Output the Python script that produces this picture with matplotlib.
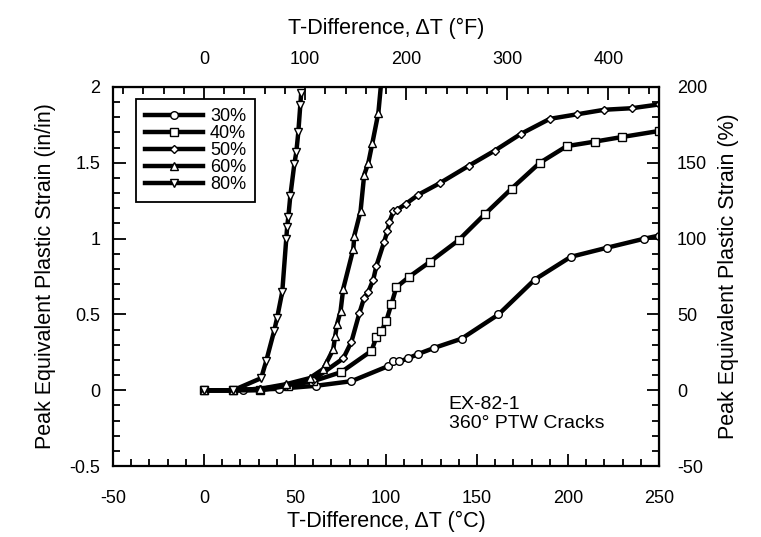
import numpy as np
import matplotlib
matplotlib.use("Agg")
import matplotlib.pyplot as plt
from matplotlib.ticker import MultipleLocator, FormatStrFormatter

plt.rcParams['font.family'] = ['Liberation Sans', 'DejaVu Sans']
plt.rcParams['axes.unicode_minus'] = False

# data (T in C, strain in in/in)
t30 = [0, 21.5, 41, 61.7, 81, 101.3, 104, 107.4, 112, 117.8, 126.6, 141.5, 161.8, 181.7, 201.5, 221.4, 242, 250]
s30 = [0, 0, 0.01, 0.03, 0.06, 0.16, 0.19, 0.19, 0.21, 0.24, 0.28, 0.34, 0.50, 0.73, 0.88, 0.94, 1.00, 1.02]

t40 = [0, 16, 31, 46, 60, 75.4, 92, 94.7, 97.5, 100.2, 103, 105.7, 112.9, 123.9, 139.9, 154.2, 169, 184.5, 199.3, 214.8, 229.6, 250]
s40 = [0, 0, 0, 0.03, 0.06, 0.12, 0.26, 0.35, 0.39, 0.46, 0.57, 0.68, 0.75, 0.845, 0.99, 1.16, 1.33, 1.50, 1.61, 1.64, 1.67, 1.71]

t50 = [0, 16, 31, 45, 60, 76.5, 81, 85.4, 88, 90.3, 93, 94.7, 99, 100.8, 101.9, 104, 106, 111, 117.8, 129.4, 145.4, 159.7, 174, 190, 205, 220, 235, 250]
s50 = [0, 0, 0.01, 0.03, 0.07, 0.21, 0.32, 0.51, 0.61, 0.65, 0.73, 0.82, 0.98, 1.05, 1.11, 1.18, 1.19, 1.23, 1.29, 1.365, 1.48, 1.58, 1.69, 1.79, 1.82, 1.85, 1.86, 1.885]

t60 = [0, 16, 31, 45, 58, 65.5, 67.2, 71, 72.1, 73.2, 75, 76.5, 82, 82.6, 86, 88, 90.3, 92.5, 95.8, 97.5]
s60 = [0, 0, 0.01, 0.04, 0.08, 0.14, 0.18, 0.27, 0.36, 0.44, 0.52, 0.67, 0.93, 1.02, 1.18, 1.42, 1.50, 1.63, 1.83, 2.05]

t80 = [0, 16, 31.4, 34.1, 38.5, 40.2, 43, 45.2, 45.7, 46.3, 47.4, 49.6, 50.7, 51.8, 52.9, 53.4]
s80 = [0, 0, 0.08, 0.19, 0.39, 0.48, 0.65, 1.00, 1.08, 1.14, 1.28, 1.49, 1.57, 1.70, 1.88, 1.96]

labels = ['30%', '40%', '50%', '60%', '80%']
markers = ['o', 's', 'D', '^', 'v']
sizes = [5.5, 5.5, 4.5, 6, 6]

fig = plt.figure(figsize=(7.61, 5.37), dpi=100)
ax = fig.add_axes([0.1485, 0.132, 0.7175, 0.706])

series = [(t30, s30), (t40, s40), (t50, s50), (t60, s60), (t80, s80)]
for (t, s), lab, m, ms in zip(series, labels, markers, sizes):
    ax.plot(t, s, color='black', lw=3.2, marker=m, ms=ms, mfc='white',
            mec='black', mew=1.0, label=lab)

ax.set_xlim(-50, 250)
ax.set_ylim(-0.5, 2)
ax.xaxis.set_major_locator(MultipleLocator(50))
ax.xaxis.set_minor_locator(MultipleLocator(10))
ax.yaxis.set_major_locator(MultipleLocator(0.5))
ax.yaxis.set_minor_locator(MultipleLocator(0.1))
ax.yaxis.set_major_formatter(FormatStrFormatter('%g'))
ax.tick_params(which='both', direction='in', labelsize=13, width=1.3)
ax.tick_params(which='major', length=9)
ax.tick_params(which='minor', length=5)
ax.tick_params(axis='x', which='major', pad=17)
ax.tick_params(axis='y', which='major', pad=9)
for sp in ax.spines.values():
    sp.set_linewidth(1.6)

ax.set_xlabel('T-Difference, \u0394T (\u00b0C)', fontsize=15.5, labelpad=3)
ax.set_ylabel('Peak Equivalent Plastic Strain (in/in)', fontsize=15.5, labelpad=10)

top = ax.secondary_xaxis('top', functions=(lambda c: c * 1.8, lambda f: f / 1.8))
top.xaxis.set_major_locator(MultipleLocator(100))
top.xaxis.set_minor_locator(MultipleLocator(20))
top.tick_params(which='both', direction='in', labelsize=13, width=1.3)
top.tick_params(which='major', length=9, pad=14)
top.tick_params(which='minor', length=5)
top.set_xlabel('T-Difference, \u0394T (\u00b0F)', fontsize=15.5, labelpad=12)

right = ax.secondary_yaxis('right', functions=(lambda s: s * 100, lambda p: p / 100))
right.yaxis.set_major_locator(MultipleLocator(50))
right.yaxis.set_minor_locator(MultipleLocator(10))
right.tick_params(which='both', direction='in', labelsize=13, width=1.3)
right.tick_params(which='major', length=9, pad=13)
right.tick_params(which='minor', length=5)
right.set_ylabel('Peak Equivalent Plastic Strain (%)', fontsize=15.5, labelpad=8)

ax.text(134.5, -0.04, 'EX-82-1\n360\u00b0 PTW Cracks', fontsize=14, va='top',
        ha='left', linespacing=1.15)

leg = ax.legend(loc='upper left', bbox_to_anchor=(0.042, 0.968), borderaxespad=0,
                fontsize=13, handlelength=3.2, labelspacing=0.0, borderpad=0.5,
                handletextpad=0.4, fancybox=False, framealpha=1)
leg.get_frame().set_edgecolor('black')
leg.get_frame().set_linewidth(1.3)

fig.savefig('out.png', dpi=100)
